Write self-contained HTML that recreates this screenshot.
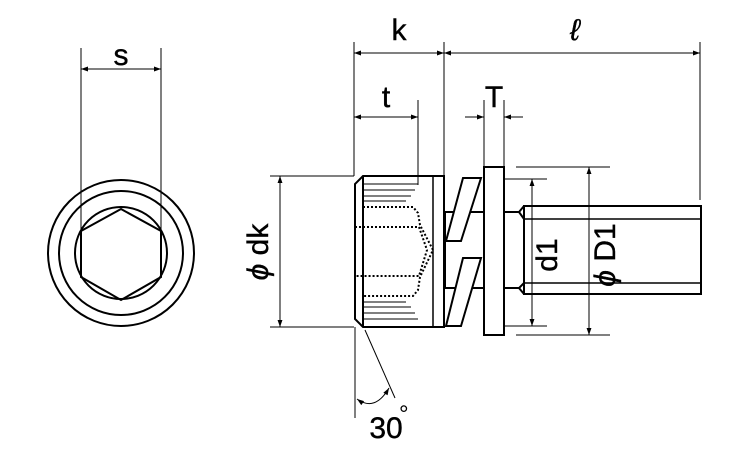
<!DOCTYPE html>
<html><head><meta charset="utf-8"><style>
html,body{margin:0;padding:0;background:#fff;}
svg{display:block;}
text{font-family:"Liberation Sans",sans-serif;fill:#000;}
</style></head><body>
<svg width="750" height="450" viewBox="0 0 750 450" xmlns="http://www.w3.org/2000/svg">
<defs>
<marker id="a" viewBox="0 0 10 10" refX="10" refY="5" markerWidth="9" markerHeight="7" orient="auto-start-reverse" markerUnits="userSpaceOnUse">
<path d="M0,1.5 L10,5 L0,8.5 Z" fill="#000"/></marker>
</defs>
<g fill="none" stroke="#000">
<circle cx="121" cy="253" r="73" stroke-width="2"/>
<circle cx="121" cy="253" r="62" stroke-width="2"/>
<circle cx="121" cy="253" r="46" stroke-width="2"/>
<polygon points="121,209 161,231 161,277 121,300 81,277 81,231" stroke-width="2"/>
<line x1="81" y1="48" x2="81" y2="231" stroke-width="1"/>
<line x1="161" y1="48" x2="161" y2="231" stroke-width="1"/>
<line x1="81" y1="69" x2="161" y2="69" stroke-width="1" marker-start="url(#a)" marker-end="url(#a)"/>

<path d="M363,176 L444,176 L444,327 L363,327 L355,319 L355,184 Z" stroke-width="2"/>
<line x1="363" y1="176" x2="363" y2="327" stroke-width="2"/>
<line x1="433" y1="176" x2="433" y2="327" stroke-width="1.5"/>
<g stroke-width="1">
<line x1="363" y1="184" x2="418" y2="184"/><line x1="363" y1="190" x2="415" y2="190"/>
<line x1="363" y1="196" x2="411" y2="196"/><line x1="363" y1="201" x2="406" y2="201"/>
<line x1="363" y1="302" x2="406" y2="302"/><line x1="363" y1="307" x2="411" y2="307"/>
<line x1="363" y1="313" x2="415" y2="313"/><line x1="363" y1="319" x2="418" y2="319"/>
</g>
<g stroke-width="2" stroke-dasharray="2,2">
<path d="M363,207 L413,207 L418,213 L420,225 L433,250 L420,277 L418,290 L413,296 L363,296"/>
<path d="M355,227 L419,227 L427,250 L419,276 L355,276"/>
</g>
<g stroke-width="2">
<rect x="445" y="212" width="39" height="76"/>
<polygon points="463,178 481,178 461,241 446,241" fill="#fff"/>
<polygon points="463,258 481,258 461,326 446,326" fill="#fff"/>
<rect x="484" y="167" width="20" height="168" fill="#fff"/>
<path d="M504,212 L519,212 M504,288 L519,288"/>
<path d="M524,206 L701,206 L701,294 L524,294 Z"/>
<path d="M524,206 L519,212 L524,219 M524,294 L519,288 L524,283"/>
</g>
<line x1="524" y1="219" x2="701" y2="219" stroke-width="1.5"/>
<line x1="524" y1="283" x2="701" y2="283" stroke-width="1.5"/>

<g stroke-width="1">
<line x1="354" y1="42" x2="354" y2="176"/>
<line x1="444" y1="42" x2="444" y2="176"/>
<line x1="700" y1="42" x2="700" y2="200"/>
<line x1="354" y1="53" x2="444" y2="53" marker-start="url(#a)" marker-end="url(#a)"/>
<line x1="444" y1="53" x2="700" y2="53" marker-start="url(#a)" marker-end="url(#a)"/>
<line x1="418" y1="100" x2="418" y2="185"/>
<line x1="354" y1="117" x2="418" y2="117" marker-start="url(#a)" marker-end="url(#a)"/>
<line x1="484" y1="100" x2="484" y2="167"/>
<line x1="504" y1="100" x2="504" y2="167"/>
<line x1="465" y1="117" x2="484" y2="117" marker-end="url(#a)"/>
<line x1="523" y1="117" x2="504" y2="117" marker-end="url(#a)"/>
<line x1="270" y1="176" x2="354" y2="176"/>
<line x1="270" y1="327" x2="354" y2="327"/>
<line x1="280" y1="176" x2="280" y2="327" marker-start="url(#a)" marker-end="url(#a)"/>
<line x1="504" y1="179" x2="547" y2="179"/>
<line x1="504" y1="326" x2="547" y2="326"/>
<line x1="532" y1="179" x2="532" y2="326" marker-start="url(#a)" marker-end="url(#a)"/>
<line x1="516" y1="167" x2="610" y2="167"/>
<line x1="516" y1="335" x2="610" y2="335"/>
<line x1="589" y1="167" x2="589" y2="335" marker-start="url(#a)" marker-end="url(#a)"/>
<line x1="355" y1="327" x2="355" y2="418"/>
<line x1="365" y1="330" x2="395" y2="398"/>
<path d="M357,399 Q375,412 389,388" marker-start="url(#a)" marker-end="url(#a)"/>
</g>
</g>
<g font-size="30" stroke="#000" stroke-width="0.4">
<text x="121" y="65" text-anchor="middle">s</text>
<text x="399" y="40" text-anchor="middle">k</text>
<text x="575" y="40" text-anchor="middle" font-style="italic">ℓ</text>
<text x="386" y="107" text-anchor="middle">t</text>
<text x="494" y="107" text-anchor="middle">T</text>
<text transform="translate(268,252) rotate(-90)" text-anchor="middle" font-style="italic">ϕ <tspan font-style="normal">dk</tspan></text>
<text transform="translate(557,255) rotate(-90)" text-anchor="middle">d1</text>
<text transform="translate(615,255) rotate(-90)" text-anchor="middle" font-style="italic">ϕ <tspan font-style="normal">D1</tspan></text>
<text x="386" y="438" text-anchor="middle">30</text>
</g>
<text x="399" y="422" font-size="24">°</text>
</svg>
</body></html>
